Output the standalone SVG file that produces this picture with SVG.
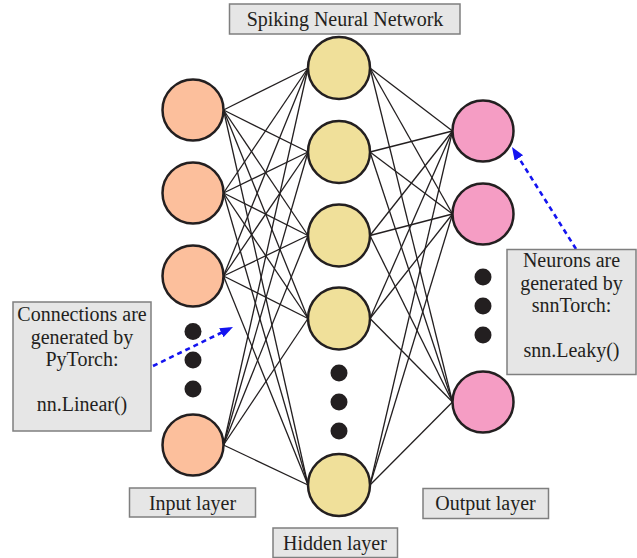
<svg xmlns="http://www.w3.org/2000/svg" width="637" height="558" viewBox="0 0 637 558">
  <style>
    .label-box { fill: #e6e6e6; stroke: #7f7f7f; stroke-width: 1.5; }
    .label { font-family: "Liberation Serif", "Times New Roman", serif; font-size: 20px; fill: #231f20; text-anchor: middle; }
    .edge { stroke: #231f20; stroke-width: 1.3; fill: none; }
    .neuron { stroke: #231f20; stroke-width: 2.5; }
    .input { fill: #fcbf9c; }
    .hidden { fill: #f0e09a; }
    .output { fill: #f59dc4; }
    .dot { fill: #231f20; }
    .pointer { stroke: #1414f0; stroke-width: 2.6; stroke-dasharray: 5 4; fill: none; }
  </style>
  <defs>
    <marker id="arrowhead" markerUnits="userSpaceOnUse" markerWidth="14" markerHeight="12" refX="9" refY="5" orient="auto">
      <path d="M0,0 L13,5 L0,10 z" fill="#1414f0"/>
    </marker>
  </defs>

  <rect width="637" height="558" fill="#ffffff"/>

  <!-- fully connected weights: input -> hidden, hidden -> output -->
  <g id="connectors">
    <line class="edge" x1="223.5" y1="110" x2="308" y2="68"/>
    <line class="edge" x1="223.5" y1="110" x2="308" y2="152"/>
    <line class="edge" x1="223.5" y1="110" x2="308" y2="235.5"/>
    <line class="edge" x1="223.5" y1="110" x2="308" y2="318.5"/>
    <line class="edge" x1="223.5" y1="110" x2="308" y2="485"/>
    <line class="edge" x1="223.5" y1="193" x2="308" y2="68"/>
    <line class="edge" x1="223.5" y1="193" x2="308" y2="152"/>
    <line class="edge" x1="223.5" y1="193" x2="308" y2="235.5"/>
    <line class="edge" x1="223.5" y1="193" x2="308" y2="318.5"/>
    <line class="edge" x1="223.5" y1="193" x2="308" y2="485"/>
    <line class="edge" x1="223.5" y1="276" x2="308" y2="68"/>
    <line class="edge" x1="223.5" y1="276" x2="308" y2="152"/>
    <line class="edge" x1="223.5" y1="276" x2="308" y2="235.5"/>
    <line class="edge" x1="223.5" y1="276" x2="308" y2="318.5"/>
    <line class="edge" x1="223.5" y1="276" x2="308" y2="485"/>
    <line class="edge" x1="223.5" y1="445" x2="308" y2="68"/>
    <line class="edge" x1="223.5" y1="445" x2="308" y2="152"/>
    <line class="edge" x1="223.5" y1="445" x2="308" y2="235.5"/>
    <line class="edge" x1="223.5" y1="445" x2="308" y2="318.5"/>
    <line class="edge" x1="223.5" y1="445" x2="308" y2="485"/>

    <line class="edge" x1="370" y1="68" x2="452.5" y2="131"/>
    <line class="edge" x1="370" y1="68" x2="452.5" y2="214"/>
    <line class="edge" x1="370" y1="68" x2="452.5" y2="402"/>
    <line class="edge" x1="370" y1="152" x2="452.5" y2="131"/>
    <line class="edge" x1="370" y1="152" x2="452.5" y2="214"/>
    <line class="edge" x1="370" y1="152" x2="452.5" y2="402"/>
    <line class="edge" x1="370" y1="235.5" x2="452.5" y2="131"/>
    <line class="edge" x1="370" y1="235.5" x2="452.5" y2="214"/>
    <line class="edge" x1="370" y1="235.5" x2="452.5" y2="402"/>
    <line class="edge" x1="370" y1="318.5" x2="452.5" y2="131"/>
    <line class="edge" x1="370" y1="318.5" x2="452.5" y2="214"/>
    <line class="edge" x1="370" y1="318.5" x2="452.5" y2="402"/>
    <line class="edge" x1="370" y1="485" x2="452.5" y2="131"/>
    <line class="edge" x1="370" y1="485" x2="452.5" y2="214"/>
    <line class="edge" x1="370" y1="485" x2="452.5" y2="402"/>

    <!-- annotation pointers -->
    <line class="pointer" x1="153" y1="366" x2="229.4" y2="328.8" marker-end="url(#arrowhead)"/>
    <line class="pointer" x1="576" y1="249" x2="514.1" y2="150.4" marker-end="url(#arrowhead)"/>
  </g>

  <!-- input layer -->
  <g id="input-1"><circle class="neuron input" cx="193" cy="110" r="30.5"/></g>
  <g id="input-2"><circle class="neuron input" cx="193" cy="193" r="30.5"/></g>
  <g id="input-3"><circle class="neuron input" cx="193" cy="276" r="30.5"/></g>
  <g id="input-ellipsis">
    <circle class="dot" cx="193" cy="331.5" r="8.5"/>
    <circle class="dot" cx="193" cy="360" r="8.5"/>
    <circle class="dot" cx="193" cy="389" r="8.5"/>
  </g>
  <g id="input-n"><circle class="neuron input" cx="193" cy="445" r="30.5"/></g>

  <!-- hidden layer -->
  <g id="hidden-1"><circle class="neuron hidden" cx="339" cy="68" r="31"/></g>
  <g id="hidden-2"><circle class="neuron hidden" cx="339" cy="152" r="31"/></g>
  <g id="hidden-3"><circle class="neuron hidden" cx="339" cy="235.5" r="31"/></g>
  <g id="hidden-4"><circle class="neuron hidden" cx="339" cy="318.5" r="31"/></g>
  <g id="hidden-ellipsis">
    <circle class="dot" cx="339" cy="373" r="8.5"/>
    <circle class="dot" cx="339" cy="402" r="8.5"/>
    <circle class="dot" cx="339" cy="431" r="8.5"/>
  </g>
  <g id="hidden-n"><circle class="neuron hidden" cx="339" cy="485" r="31"/></g>

  <!-- output layer -->
  <g id="output-1"><circle class="neuron output" cx="483" cy="131" r="30.5"/></g>
  <g id="output-2"><circle class="neuron output" cx="483" cy="214" r="30.5"/></g>
  <g id="output-ellipsis">
    <circle class="dot" cx="483" cy="277" r="8.5"/>
    <circle class="dot" cx="483" cy="306" r="8.5"/>
    <circle class="dot" cx="483" cy="335" r="8.5"/>
  </g>
  <g id="output-n"><circle class="neuron output" cx="483" cy="402" r="30.5"/></g>

  <!-- title and layer labels -->
  <g id="title">
    <rect class="label-box" x="229.5" y="4" width="230.5" height="30"/>
    <text class="label" x="345" y="25.5">Spiking Neural Network</text>
  </g>
  <g id="input-label">
    <rect class="label-box" x="129.5" y="488" width="126" height="29"/>
    <text class="label" x="192.5" y="509.5">Input layer</text>
  </g>
  <g id="hidden-label">
    <rect class="label-box" x="273" y="528" width="124.5" height="29.5"/>
    <text class="label" x="335" y="549.5">Hidden layer</text>
  </g>
  <g id="output-label">
    <rect class="label-box" x="423" y="488.5" width="125.5" height="30"/>
    <text class="label" x="485.5" y="510">Output layer</text>
  </g>

  <!-- annotations -->
  <g id="note-connections">
    <rect class="label-box" x="13" y="302" width="138" height="129"/>
    <text class="label" x="82" y="321">Connections are</text>
    <text class="label" x="82" y="343.5">generated by</text>
    <text class="label" x="82" y="366">PyTorch:</text>
    <text class="label" x="82" y="411">nn.Linear()</text>
  </g>
  <g id="note-neurons">
    <rect class="label-box" x="507" y="249.5" width="129" height="125"/>
    <text class="label" x="571.5" y="267">Neurons are</text>
    <text class="label" x="571.5" y="289.5">generated by</text>
    <text class="label" x="571.5" y="312">snnTorch:</text>
    <text class="label" x="571.5" y="357">snn.Leaky()</text>
  </g>
</svg>
